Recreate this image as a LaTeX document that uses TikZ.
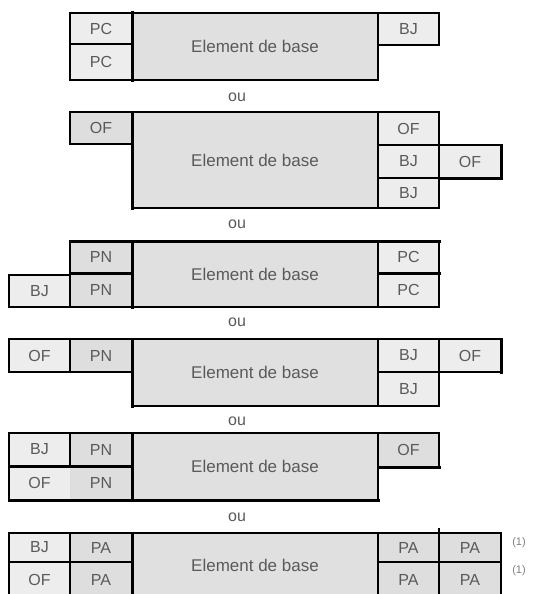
\documentclass[tikz,border=0pt]{standalone}
\usepackage{fontspec}
\setmainfont{Liberation Sans}
\definecolor{ltfill}{HTML}{EDEDED}
\definecolor{dkfill}{HTML}{DEDEDE}
\definecolor{mnfill}{HTML}{E0E0E0}
\definecolor{txt}{HTML}{5A5A5A}
\newcommand\cellbox[7]{%
  \pgfmathsetmacro\cw{#4-#2}\pgfmathsetmacro\ch{#5-#3}%
  \node[#6, minimum width=\cw pt, minimum height=\ch pt, anchor=north west] (#1) at (#2,#3) {#7};}
\tikzset{
  cellbase/.style={inner sep=0pt, outer sep=0pt, line width=1.5pt, text=txt, font=\fontsize{16}{18}\selectfont},
  lt/.style={cellbase, draw=black, fill=ltfill},
  dk/.style={cellbase, draw=black, fill=dkfill},
  mn/.style={cellbase, draw=black, fill=mnfill, font=\fontsize{17}{19}\selectfont},
  ltnd/.style={cellbase, fill=ltfill},
  dknd/.style={cellbase, fill=dkfill},
  thickl/.style={line width=3pt, line cap=rect},
  thinl/.style={line width=1.5pt},
  oulabel/.style={text=txt, font=\fontsize{16}{18}\selectfont, inner sep=0pt},
  note/.style={text=black!50, font=\fontsize{11}{13}\selectfont, inner sep=0pt}
}
\begin{document}
\begin{tikzpicture}[x=1pt,y=-1pt]
\clip (0,0) rectangle (555,594);
\fill[white] (0,0) rectangle (555,594);
% Block 1
\cellbox{a1}{70}{13}{132}{44}{lt}{PC}
\cellbox{a2}{70}{44}{132}{80}{lt}{PC}
\cellbox{am}{132}{13}{378}{80}{mn}{Element de base}
\cellbox{ar1}{378}{13}{439}{45}{lt}{BJ}
\draw[thickl] (am.north west) -- (am.south west);
\node[oulabel] (ou1) at (237,97) {ou};
% Block 2
\cellbox{b1}{70}{112}{132}{144}{dk}{OF}
\cellbox{bm}{132}{112}{378}{208}{mn}{Element de base}
\cellbox{br1}{378}{112}{439}{145}{lt}{OF}
\cellbox{br2}{378}{145}{439}{178}{lt}{BJ}
\cellbox{br3}{378}{178}{439}{208}{lt}{BJ}
\cellbox{br4}{439}{145}{501}{178}{lt}{OF}
\draw[thickl] (bm.north west) -- (bm.south west);
\draw[thickl] (br4.north east) -- (br4.south east) -- (br4.south west);
\node[oulabel] (ou2) at (237,224) {ou};
% Block 3
\cellbox{c0}{9}{275}{70}{307}{lt}{BJ}
\cellbox{c1}{70}{241}{132}{273}{dk}{PN}
\cellbox{c2}{70}{273}{132}{307}{dk}{PN}
\cellbox{cm}{132}{241}{378}{307}{mn}{Element de base}
\cellbox{cr1}{378}{241}{439}{273}{lt}{PC}
\cellbox{cr2}{378}{273}{439}{307}{lt}{PC}
\draw[thickl] (cm.north west) -- (cm.south west);
\draw[thickl] (c1.north west) -- (cr1.north east);
\draw[thickl] (c1.south west) -- (c1.south east);
\draw[thickl] (cr1.south west) -- (cr1.south east);
\node[oulabel] (ou3) at (237,322) {ou};
% Block 4
\cellbox{d0}{9}{339}{70}{372}{lt}{OF}
\cellbox{d1}{70}{339}{132}{372}{dk}{PN}
\cellbox{dm}{132}{339}{378}{406}{mn}{Element de base}
\cellbox{dr1}{378}{339}{439}{372}{lt}{BJ}
\cellbox{dr2}{439}{339}{501}{372}{lt}{OF}
\cellbox{dr3}{378}{372}{439}{406}{lt}{BJ}
\draw[thickl] (dm.north west) -- (dm.south west);
\draw[thickl] (dr2.north east) -- (dr2.south east);
\node[oulabel] (ou4) at (237,421) {ou};
% Block 5
\cellbox{e0}{9}{433}{70}{466}{lt}{BJ}
\cellbox{e1}{70}{433}{132}{466}{dk}{PN}
\cellbox{e2}{9}{466}{70}{500}{ltnd}{OF}
\cellbox{e3}{70}{466}{132}{500}{dknd}{PN}
\draw[thinl] (e2.north west) rectangle (e3.south east);
\cellbox{em}{132}{433}{378}{500}{mn}{Element de base}
\cellbox{er1}{378}{433}{439}{467}{dk}{OF}
\draw[thickl] (em.north west) -- (em.south west);
\draw[thickl] (e0.south west) -- (e1.south east);
\draw[thickl] (e2.south west) -- (em.south east);
\draw[thickl] (er1.south west) -- (er1.south east);
\node[oulabel] (ou5) at (237,517) {ou};
% Block 6
\cellbox{f0}{9}{533}{70}{562}{lt}{BJ}
\cellbox{f1}{70}{533}{132}{562}{dk}{PA}
\cellbox{f2}{9}{562}{70}{597}{lt}{OF}
\cellbox{f3}{70}{562}{132}{597}{dk}{PA}
\cellbox{fm}{132}{533}{378}{597}{mn}{Element de base}
\cellbox{fr1}{378}{533}{439}{562}{dk}{PA}
\cellbox{fr2}{439}{533}{501}{562}{dk}{PA}
\cellbox{fr3}{378}{562}{439}{597}{dk}{PA}
\cellbox{fr4}{439}{562}{501}{597}{dk}{PA}
\draw[thickl] (fm.north west) -- (fm.south west);
\coordinate (tk) at (439,528);
\draw[thinl] (tk) -- (fr1.north east);
\node[note] (n1) at (519,543) {(1)};
\node[note] (n2) at (519,571) {(1)};
\end{tikzpicture}
\end{document}
